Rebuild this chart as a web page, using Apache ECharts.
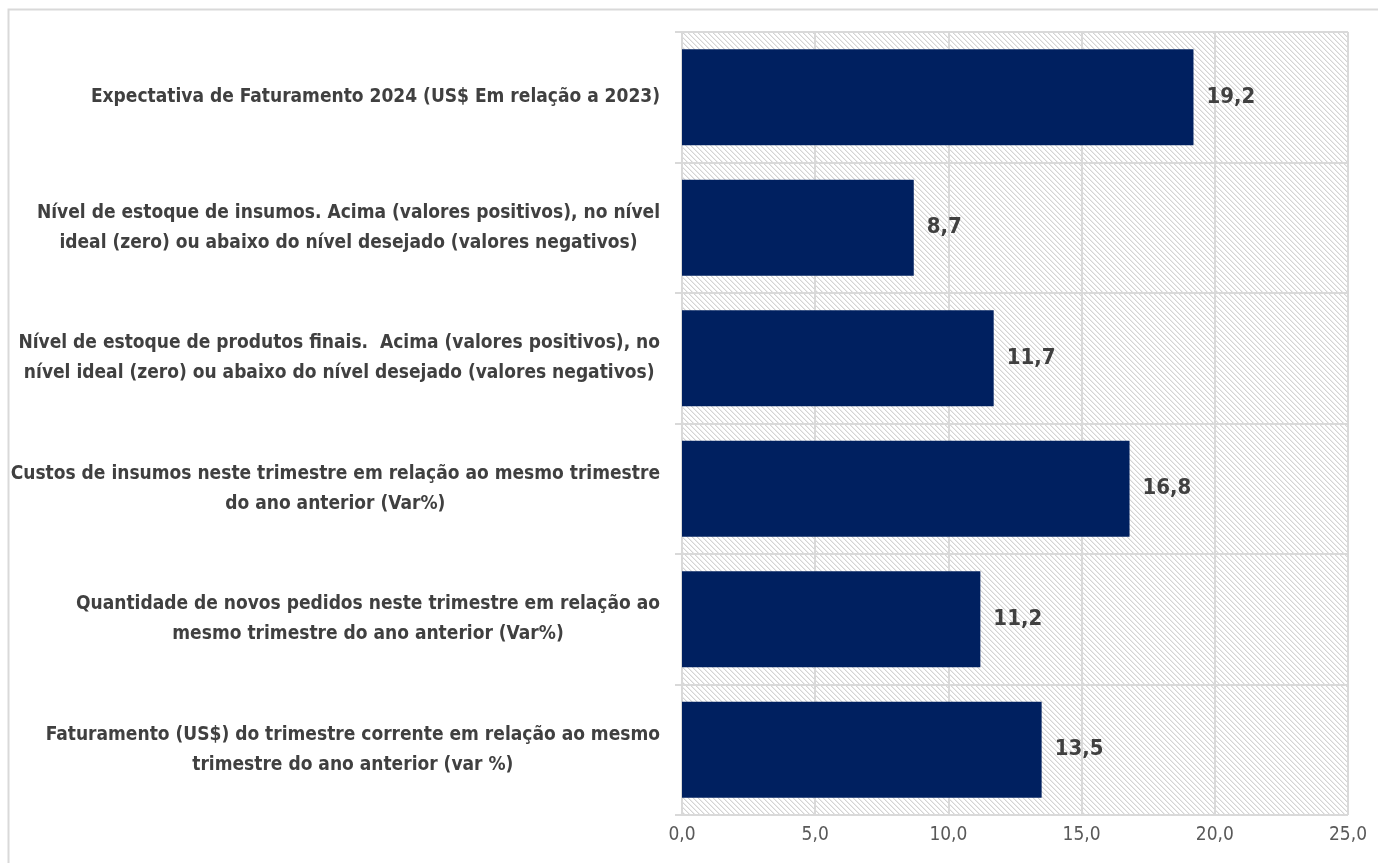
<!DOCTYPE html>
<html>
<head>
<meta charset="utf-8">
<script src="https://cdn.jsdelivr.net/npm/echarts@6/dist/echarts.min.js"></script>
<style>
html,body{margin:0;padding:0;background:#fff;}
#c{width:1378px;height:863px;}
</style>
</head>
<body>
<div id="c"></div>
<script>
var categories = [
  "Expectativa de Faturamento 2024 (US$ Em relação a 2023)",
  "Nível de estoque de insumos. Acima (valores positivos), no nível\nideal (zero) ou abaixo do nível desejado (valores negativos)",
  "Nível de estoque de produtos finais.  Acima (valores positivos), no\nnível ideal (zero) ou abaixo do nível desejado (valores negativos)",
  "Custos de insumos neste trimestre em relação ao mesmo trimestre\ndo ano anterior (Var%)",
  "Quantidade de novos pedidos neste trimestre em relação ao\nmesmo trimestre do ano anterior (Var%)",
  "Faturamento (US$) do trimestre corrente em relação ao mesmo\ntrimestre do ano anterior (var %)"
];
var values = [19.2, 8.7, 11.7, 16.8, 11.2, 13.5];
var xTicks = { min: 0, max: 25, interval: 5 };

function hatch() {
  var n = 10, cv = document.createElement('canvas');
  cv.width = n; cv.height = n;
  var ctx = cv.getContext('2d');
  var img = ctx.createImageData(n, n);
  for (var y = 0; y < n; y++) {
    for (var x = 0; x < n; x++) {
      var m = ((x - y) % 5 + 5) % 5;
      var v = m === 0 ? 212 : (m === 1 ? 236 : 255);
      var i = (y * n + x) * 4;
      img.data[i] = v; img.data[i+1] = v; img.data[i+2] = v; img.data[i+3] = 255;
    }
  }
  ctx.putImageData(img, 0, 0);
  return cv;
}

var FONT = "'Liberation Sans Narrow', 'DejaVu Sans Condensed', 'Liberation Sans', sans-serif";
var chart = echarts.init(document.getElementById('c'));
chart.setOption({
  animation: false,
  backgroundColor: '#ffffff',
  graphic: [{
    type: 'rect', left: 6, top: 7, shape: { width: 1420, height: 900 },
    style: { fill: 'none', stroke: '#d9d9d9', lineWidth: 2 }, z: -10
  }],
  grid: {
    left: 682, right: 30, top: 32, bottom: 48,
    outerBoundsMode: 'none', containLabel: false,
    show: true, borderWidth: 0,
    backgroundColor: { image: hatch(), repeat: 'repeat' }
  },
  xAxis: {
    type: 'value', min: xTicks.min, max: xTicks.max, interval: xTicks.interval,
    axisLine: { show: false }, axisTick: { show: false },
    splitLine: { show: true, lineStyle: { color: '#d9d9d9', width: 2 } },
    axisLabel: {
      color: '#595959', fontFamily: FONT, fontSize: 19, margin: 11,
      formatter: function (v) { return v.toFixed(1).replace('.', ','); }
    }
  },
  yAxis: {
    type: 'category', data: categories, inverse: true,
    axisLine: { show: true, lineStyle: { color: '#d9d9d9', width: 2 } },
    axisTick: { show: true, length: 7, lineStyle: { color: '#d9d9d9', width: 2 } },
    splitLine: { show: true, lineStyle: { color: '#d9d9d9', width: 2 } },
    axisLabel: {
      margin: 22, align: 'right',
      formatter: function (v) {
        return v.split('\n').map(function (l) { return '{c|' + l + '}'; }).join('\n');
      },
      rich: {
        c: { align: 'center', color: '#404040', fontFamily: FONT, fontWeight: 'bold', fontSize: 19, lineHeight: 30 }
      }
    }
  },
  series: [{
    type: 'bar', data: values, barCategoryGap: '26.5%',
    itemStyle: { color: '#002060' },
    label: {
      show: true, position: 'right', distance: 13,
      color: '#404040', fontFamily: FONT, fontWeight: 'bold', fontSize: 22,
      formatter: function (p) { return p.value.toFixed(1).replace('.', ','); }
    }
  }]
});
</script>
</body>
</html>
